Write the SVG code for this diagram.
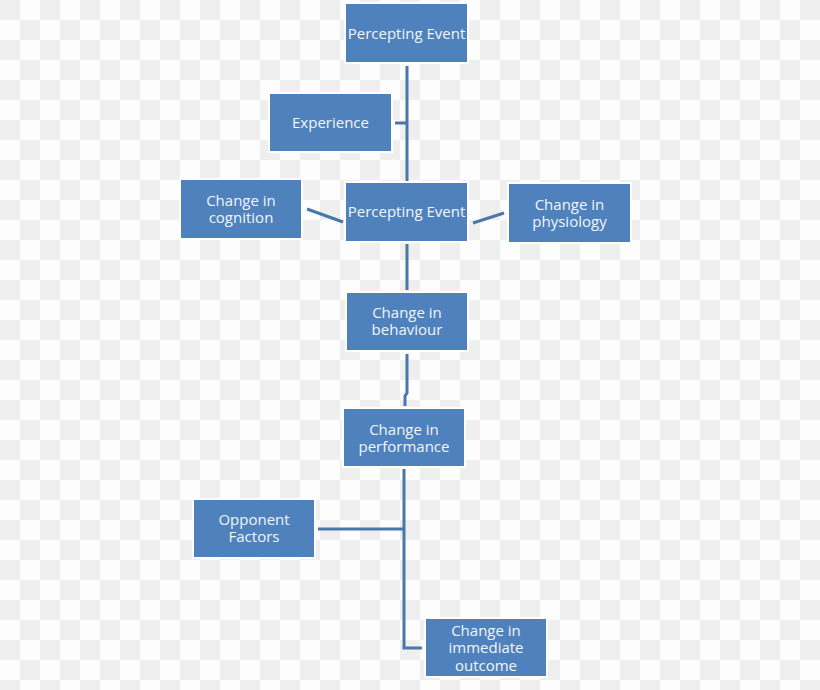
<svg xmlns="http://www.w3.org/2000/svg" width="820" height="690" viewBox="0 0 820 690">
<style>
.box{fill:#4f81bd;stroke:#ffffff;stroke-width:2}
.lbl{font-family:"Open Sans","Liberation Sans",sans-serif;font-size:15px;fill:#f2f6fb;text-anchor:middle}
.con{fill:none;stroke:#4a77ab;stroke-width:3}
</style>
<defs>
<pattern id="chk" width="40" height="40" patternUnits="userSpaceOnUse">
<rect width="40" height="40" fill="#fdfdfd"/>
<rect width="20" height="20" fill="#efefef"/>
<rect x="20" y="20" width="20" height="20" fill="#efefef"/>
</pattern>
</defs>
<rect width="820" height="690" fill="url(#chk)"/>
<g id="connectors">
<line class="con" x1="407" y1="66" x2="407" y2="181"/>
<line class="con" x1="395" y1="123" x2="407" y2="123"/>
<line class="con" x1="307" y1="209" x2="343" y2="222"/>
<line class="con" x1="473" y1="223" x2="504" y2="213"/>
<line class="con" x1="407" y1="244" x2="407" y2="290"/>
<polyline class="con" points="407,354 407,393 405,396 405,406"/>
<polyline class="con" points="404,469 404,648 422,648"/>
<line class="con" x1="318" y1="529" x2="404" y2="529"/>
</g>
<g id="n1"><rect class="box" x="345" y="3" width="123" height="60"/><text class="lbl" x="406.5" y="39">Percepting Event</text></g>
<g id="n2"><rect class="box" x="269" y="93" width="123" height="59"/><text class="lbl" x="330.5" y="128">Experience</text></g>
<g id="n3"><rect class="box" x="180" y="179" width="122" height="60"/><text class="lbl" x="241" y="206">Change in</text><text class="lbl" x="241" y="223">cognition</text></g>
<g id="n4"><rect class="box" x="345" y="182" width="123" height="60"/><text class="lbl" x="406.5" y="217">Percepting Event</text></g>
<g id="n5"><rect class="box" x="508" y="183" width="123" height="60"/><text class="lbl" x="569.5" y="210">Change in</text><text class="lbl" x="569.5" y="227">physiology</text></g>
<g id="n6"><rect class="box" x="346" y="292" width="122" height="59"/><text class="lbl" x="407" y="318">Change in</text><text class="lbl" x="407" y="335">behaviour</text></g>
<g id="n7"><rect class="box" x="343" y="408" width="122" height="59"/><text class="lbl" x="404" y="435">Change in</text><text class="lbl" x="404" y="452">performance</text></g>
<g id="n8"><rect class="box" x="193" y="499" width="122" height="59"/><text class="lbl" x="254" y="525">Opponent</text><text class="lbl" x="254" y="542">Factors</text></g>
<g id="n9"><rect class="box" x="425" y="618" width="122" height="59"/><text class="lbl" x="486" y="636">Change in</text><text class="lbl" x="486" y="653">immediate</text><text class="lbl" x="486" y="671">outcome</text></g>
</svg>
